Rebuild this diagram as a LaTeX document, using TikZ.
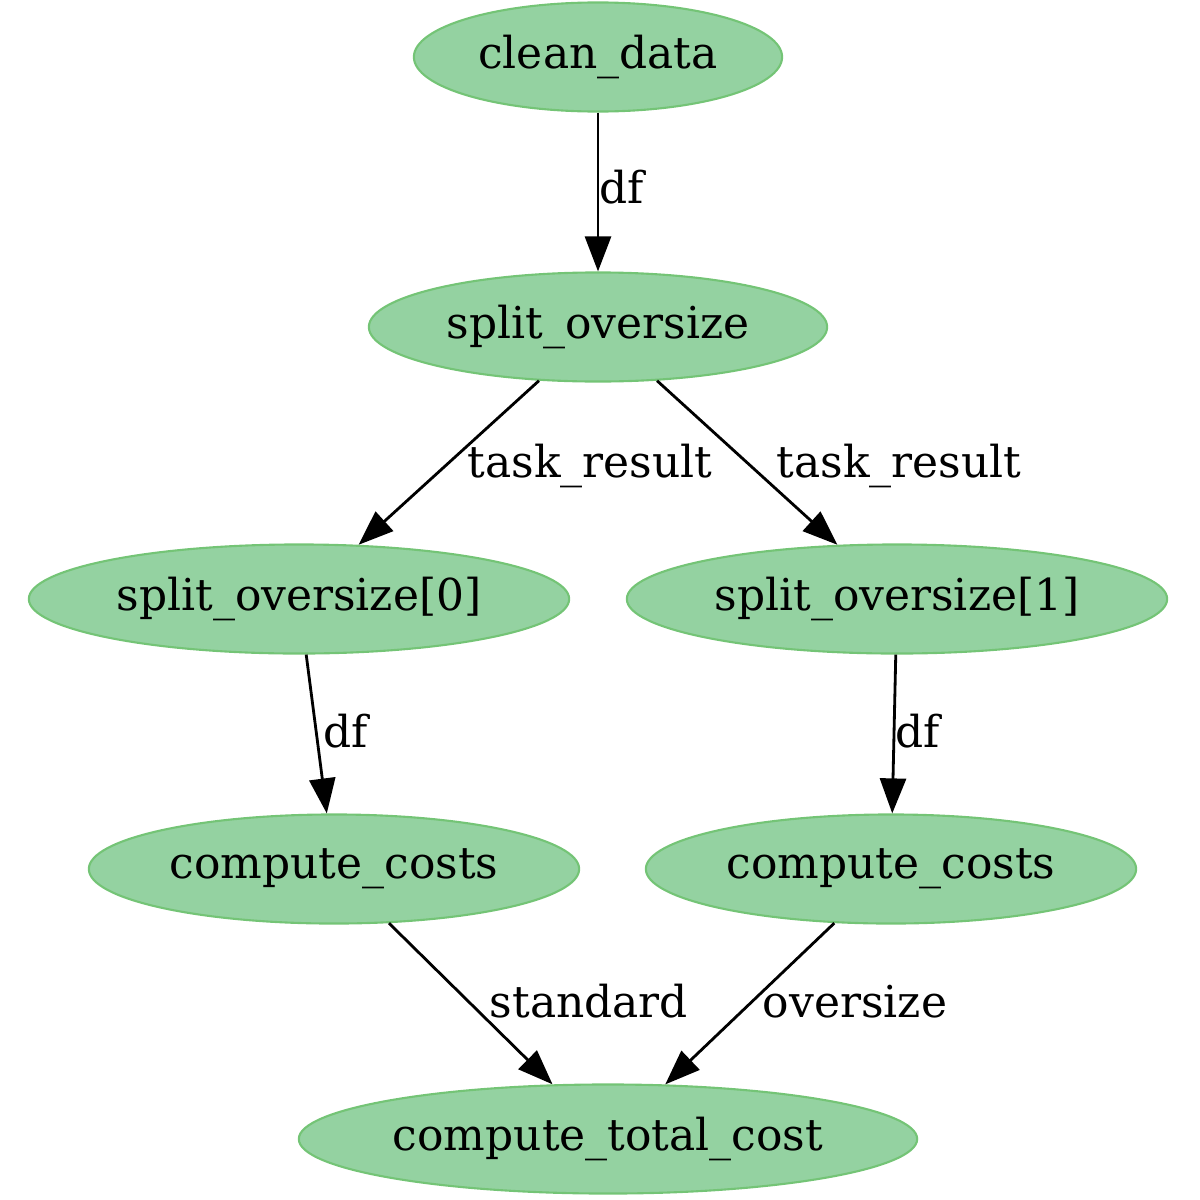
\documentclass[tikz,border=0pt]{standalone}
\usepackage{fontspec}
\setmainfont{DejaVu Serif}
\usetikzlibrary{shapes.geometric,arrows.meta}
\definecolor{taskfill}{RGB}{148,210,161}
\definecolor{taskline}{RGB}{116,196,118}
\begin{document}
\begin{tikzpicture}[x=0.01cm, y=-0.01cm,
		task/.style={ellipse, draw=taskline, fill=taskfill, line width=0.6pt, minimum height=1.09cm, inner sep=0pt, font=\fontsize{12.5}{15}\selectfont},
		lbl/.style={anchor=base, inner sep=0pt, font=\fontsize{12.5}{15}\selectfont},
		flow/.style={-{Triangle[length=0.35cm,width=0.26cm]}, line width=0.8pt}]
		\useasboundingbox (0,0) rectangle (1200,1200);
		% tasks
		\node [task, minimum width=3.68cm] (clean) at (598,57) {clean\_data};
		\node [task, minimum width=4.58cm] (split) at (598,327) {split\_oversize};
		\node [task, minimum width=5.40cm] (split0) at (299,599) {split\_oversize[0]};
		\node [task, minimum width=5.40cm] (split1) at (897,599) {split\_oversize[1]};
		\node [task, minimum width=4.90cm] (costs0) at (334,869) {compute\_costs};
		\node [task, minimum width=4.90cm] (costs1) at (891,869) {compute\_costs};
		\node [task, minimum width=6.18cm] (total) at (608,1139) {compute\_total\_cost};
		% edges
		\draw [flow] (clean) -- (split);
		\draw [flow] (split) -- (split0);
		\draw [flow] (split) -- (split1);
		\draw [flow] (split0) -- (costs0);
		\draw [flow] (split1) -- (costs1);
		\draw [flow] (costs0) -- (total);
		\draw [flow] (costs1) -- (total);
		% edge labels
		\node [lbl] (dfa) at (622,203) {df};
		\node [lbl] (res0) at (590,477) {task\_result};
		\node [lbl] (res1) at (899,477) {task\_result};
		\node [lbl] (dfb) at (346,747) {df};
		\node [lbl] (dfc) at (918,747) {df};
		\node [lbl] (std) at (589,1017) {standard};
		\node [lbl] (over) at (855,1017) {oversize};
\end{tikzpicture}
\end{document}
